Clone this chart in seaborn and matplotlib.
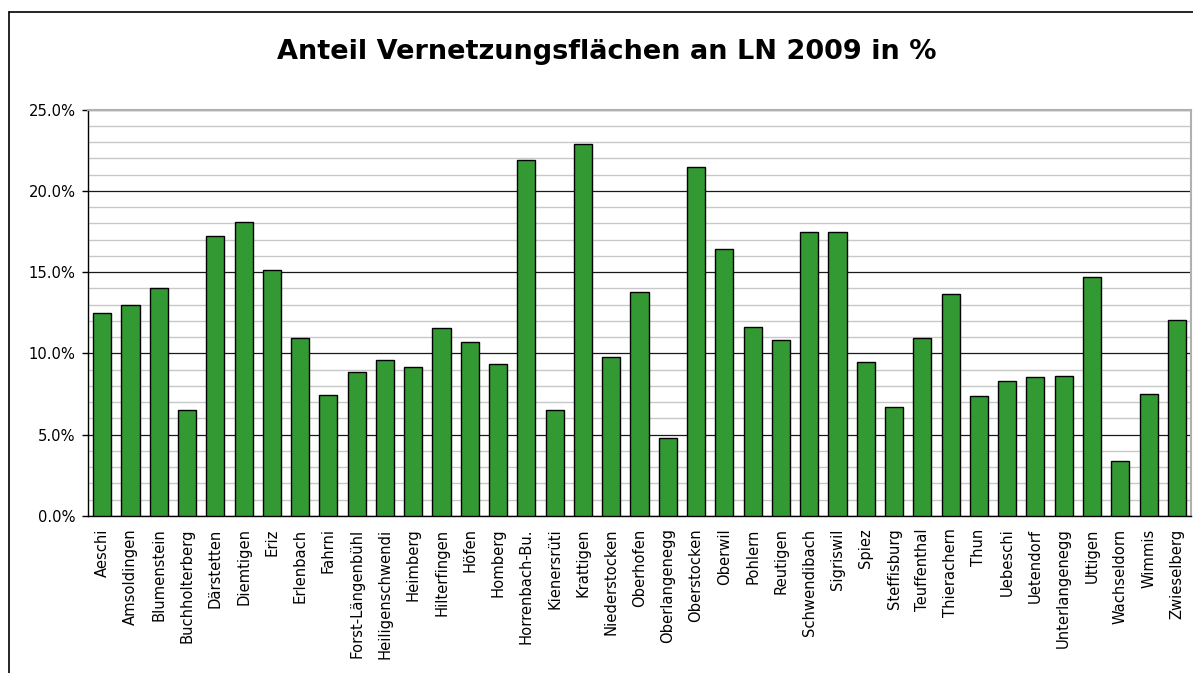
import pandas as pd
import matplotlib
matplotlib.use("Agg")
import matplotlib.pyplot as plt
import seaborn as sns
from matplotlib.lines import Line2D
from matplotlib.ticker import MultipleLocator, FuncFormatter

# Gemeinden
gemeinden = [
    "Aeschi", "Amsoldingen", "Blumenstein", "Buchholterberg", "Därstetten",
    "Diemtigen", "Eriz", "Erlenbach", "Fahrni", "Forst-Längenbühl",
    "Heiligenschwendi", "Heimberg", "Hilterfingen", "Höfen", "Homberg",
    "Horrenbach-Bu.", "Kienersrüti", "Krattigen", "Niederstocken", "Oberhofen",
    "Oberlangenegg", "Oberstocken", "Oberwil", "Pohlern", "Reutigen",
    "Schwendibach", "Sigriswil", "Spiez", "Steffisburg", "Teuffenthal",
    "Thierachern", "Thun", "Uebeschi", "Uetendorf", "Unterlangenegg",
    "Uttigen", "Wachseldorn", "Wimmis", "Zwieselberg",
]

# Anteil Vernetzungsflaechen in %
anteil = [
    12.50, 13.01, 14.04, 6.51, 17.20,
    18.12, 15.13, 10.96, 7.47, 8.85,
    9.59, 9.16, 11.56, 10.69, 9.36,
    21.92, 6.51, 22.89, 9.79, 13.81,
    4.82, 21.49, 16.44, 11.64, 10.82,
    17.48, 17.47, 9.50, 6.71, 10.96,
    13.69, 7.39, 8.31, 8.56, 8.64,
    14.70, 3.37, 7.53, 12.07,
]

y_ticks = [0, 5, 10, 15, 20, 25]

df = pd.DataFrame({"Gemeinde": gemeinden, "Anteil": anteil})

sns.set_style("white")
plt.rcParams["font.family"] = ["DejaVu Sans"]
plt.rcParams["text.color"] = "black"
plt.rcParams["xtick.color"] = "black"
plt.rcParams["ytick.color"] = "black"

fig = plt.figure(figsize=(11.93, 6.73), dpi=100)
ax = fig.add_axes([0.0738, 0.2333, 0.9245, 0.6037])

sns.barplot(
    data=df,
    x="Gemeinde",
    y="Anteil",
    color="#339933",
    saturation=1,
    width=0.64,
    edgecolor="black",
    linewidth=1.0,
    ax=ax,
    zorder=3
)

ax.set_xlim(-0.5, len(gemeinden) - 0.5)
ax.set_ylim(0, 25)

# grid lines
ax.yaxis.set_major_locator(MultipleLocator(5))
ax.yaxis.set_minor_locator(MultipleLocator(1))
ax.grid(which="minor", axis="y", color="#c8c8c8", linewidth=1.0, zorder=0)
ax.grid(which="major", axis="y", color="#1a1a1a", linewidth=0.9, zorder=1)
ax.set_axisbelow(True)

ax.yaxis.set_major_formatter(FuncFormatter(lambda v, p: f"{v:.1f}%"))
ax.set_yticks(y_ticks)

# category boundaries as tick marks
ax.set_xticks(range(len(gemeinden)))
ax.set_xticklabels(gemeinden, rotation=90, fontsize=10.6)
ax.set_xticks([i - 0.5 for i in range(len(gemeinden) + 1)], minor=True)
ax.tick_params(axis="x", which="major", length=0, pad=9, labelcolor="black")
ax.tick_params(axis="x", which="minor", length=4, width=1, color="black", direction="out")
ax.tick_params(axis="y", which="major", length=4, width=1, color="black",
               direction="out", labelsize=10.6, left=True, labelcolor="black", pad=5)
ax.tick_params(axis="y", which="minor", length=0)

for side in ["left", "bottom"]:
    ax.spines[side].set_color("black")
    ax.spines[side].set_linewidth(1.0)
for side in ["top", "right"]:
    ax.spines[side].set_visible(True)
    ax.spines[side].set_color("#b0b0b0")
    ax.spines[side].set_linewidth(1.5)

ax.set_xlabel("")
ax.set_ylabel("")

fig.text(0.509, 0.922, "Anteil Vernetzungsflächen an LN 2009 in %",
         ha="center", va="center", fontsize=19.5, fontweight="bold", color="black")

# outer chart border (cropped)
fig.add_artist(Line2D([0.0075, 0.0075], [0, 0.982], color="black", linewidth=1.2,
                      transform=fig.transFigure))
fig.add_artist(Line2D([0.0075, 1.0], [0.982, 0.982], color="black", linewidth=1.2,
                      transform=fig.transFigure))

fig.savefig("out.png", dpi=100)
